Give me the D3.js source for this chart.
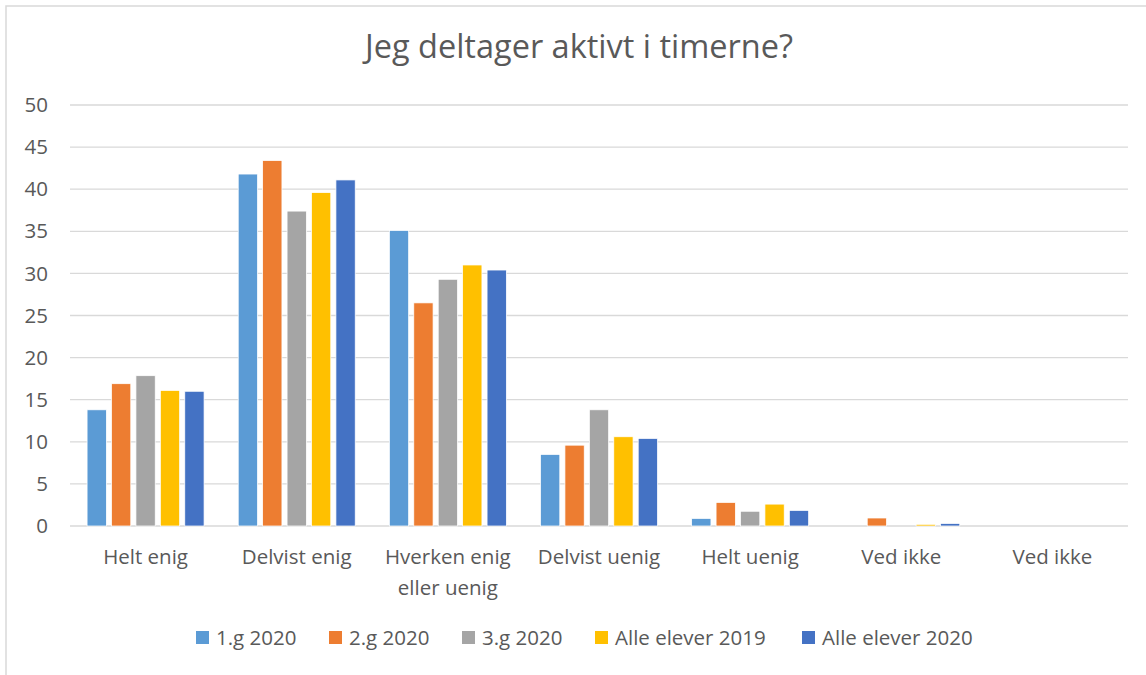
<!DOCTYPE html>
<html>
<head>
<meta charset="utf-8">
<script src="https://cdn.jsdelivr.net/npm/d3@7"></script>
<style>
  body { margin: 0; background: #fff; }
  text { font-family: "Open Sans", "Noto Sans", sans-serif; fill: #595959; }
</style>
</head>
<body>
<div id="chart"></div>
<script>
const width = 1146;
const height = 675;

const categories = ["Helt enig", "Delvist enig", "Hverken enig eller uenig", "Delvist uenig", "Helt uenig", "Ved ikke", "Ved ikke "];
const seriesNames = ["1.g 2020", "2.g 2020", "3.g 2020", "Alle elever 2019", "Alle elever 2020"];
const colors = ["#5b9bd5", "#ed7d31", "#a5a5a5", "#ffc000", "#4472c4"];

const g1 = [13.8, 41.8, 35.1, 8.5, 0.9, 0, 0];
const g2 = [16.9, 43.4, 26.5, 9.6, 2.8, 0.95, 0];
const g3 = [17.85, 37.4, 29.3, 13.8, 1.75, 0, 0];
const all2019 = [16.1, 39.6, 31.0, 10.6, 2.6, 0.2, 0];
const all2020 = [16.0, 41.1, 30.4, 10.4, 1.85, 0.3, 0];
const seriesValues = [g1, g2, g3, all2019, all2020];

const yTicks = [0, 5, 10, 15, 20, 25, 30, 35, 40, 45, 50];

const margin = {left: 70, right: 18, top: 105, bottom: 149};

let svg = d3.select("#chart")
    .append("svg")
    .attr("width", width)
    .attr("height", height);

// chart border
svg.append("rect")
    .attr("x", 6).attr("y", 6)
    .attr("width", width + 10).attr("height", height + 10)
    .attr("fill", "none")
    .attr("stroke", "#d9d9d9")
    .attr("stroke-width", 1.5);

let x = d3.scaleBand()
    .domain(categories)
    .range([margin.left, width - margin.right]);

let x1 = d3.scaleBand()
    .domain(seriesNames)
    .range([0, 117])
    .paddingInner(0.21);

let y = d3.scaleLinear()
    .domain([0, 50])
    .range([height - margin.bottom, margin.top]);

// gridlines
svg.append("g")
    .selectAll("line")
    .data(yTicks)
    .enter()
    .append("line")
    .attr("x1", margin.left)
    .attr("x2", width - margin.right)
    .attr("y1", d => y(d))
    .attr("y2", d => y(d))
    .attr("stroke", "#d9d9d9")
    .attr("stroke-width", 1.3);

// y labels
svg.append("g")
    .selectAll("text")
    .data(yTicks)
    .enter()
    .append("text")
    .attr("x", 48)
    .attr("y", d => y(d))
    .attr("dy", "0.35em")
    .attr("text-anchor", "end")
    .attr("font-size", 20.5)
    .text(d => d);

// bars
let rows = [];
categories.forEach((c, i) => {
    seriesNames.forEach((s, j) => {
        rows.push({cat: c, series: s, value: seriesValues[j][i], color: colors[j]});
    });
});

let groupOffset = (x.bandwidth() - x1.range()[1]) / 2;

svg.append("g")
    .selectAll("rect")
    .data(rows.filter(d => d.value > 0))
    .enter()
    .append("rect")
    .attr("x", d => x(d.cat) + groupOffset + x1(d.series))
    .attr("y", d => y(d.value))
    .attr("width", x1.bandwidth())
    .attr("height", d => y(0) - y(d.value))
    .attr("fill", d => d.color)
    .attr("stroke", "#fff")
    .attr("stroke-width", 0.75);

// category labels
let catLabels = svg.append("g")
    .selectAll("text")
    .data(categories)
    .enter()
    .append("text")
    .attr("x", d => x(d) + x.bandwidth() / 2)
    .attr("y", 564)
    .attr("text-anchor", "middle")
    .attr("font-size", 20.5);

catLabels.each(function (d) {
    let t = d3.select(this);
    let lines = d === "Hverken enig eller uenig" ? ["Hverken enig", "eller uenig"] : [d.trim()];
    lines.forEach((l, k) => {
        t.append("tspan")
            .attr("x", x(d) + x.bandwidth() / 2)
            .attr("dy", k === 0 ? 0 : 31)
            .text(l);
    });
});

// title
svg.append("text")
    .attr("x", 579)
    .attr("y", 58)
    .attr("text-anchor", "middle")
    .attr("font-size", 32.5)
    .text("Jeg deltager aktivt i timerne?");

// legend
const legendX = [196, 329, 462, 595, 802];
let legend = svg.append("g")
    .selectAll("g")
    .data(seriesNames)
    .enter()
    .append("g")
    .attr("transform", (d, i) => "translate(" + legendX[i] + ",631)");

legend.append("rect")
    .attr("width", 13)
    .attr("height", 13)
    .attr("fill", (d, i) => colors[i]);

legend.append("text")
    .attr("x", 20)
    .attr("y", 7)
    .attr("dy", "0.35em")
    .attr("font-size", 20.5)
    .text(d => d);
</script>
</body>
</html>
